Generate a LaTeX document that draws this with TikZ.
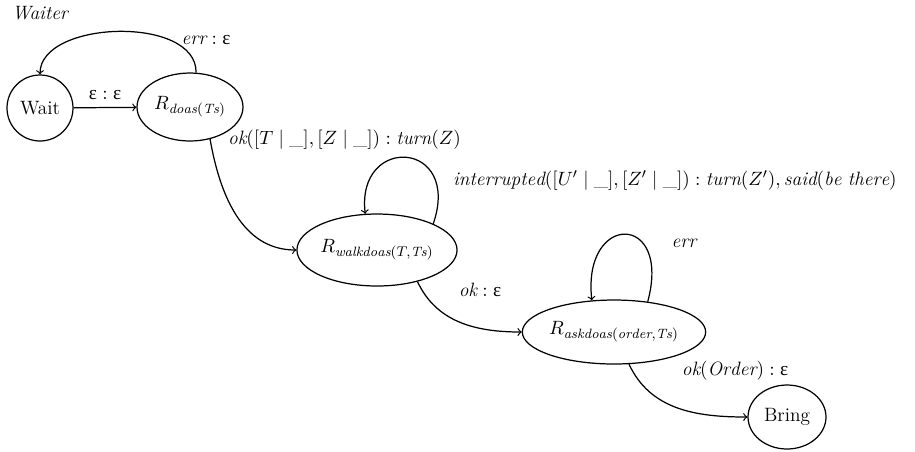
\documentclass[tikz,border=0pt]{standalone}
\usepackage{amsmath,amssymb}
\usepackage{fontspec}
\usepackage{xcolor}
\usepackage{tikz}
\usetikzlibrary{shapes.geometric}

\newfontfamily\griega{Liberation Serif}
\newcommand{\epsup}{\text{\griega ε}}

\tikzset{
  estado/.style={draw,ellipse,line width=0.7pt,inner sep=0pt,font=\fontsize{11}{13}\selectfont},
  etiq/.style={font=\fontsize{11}{13}\selectfont,inner sep=1pt},
  flecha/.style={->,line width=0.7pt}
}

\begin{document}
\begin{tikzpicture}[x=0.02cm,y=-0.02cm]
    % Marco de la figura (915 x 451)
    \useasboundingbox (0,0) rectangle (915,451);

    % Estados
    \node[estado,minimum width=1.32cm,minimum height=1.32cm] (wait) at (40,108) {Wait};
    \node[estado,minimum width=2.12cm,minimum height=1.36cm] (doas) at (190,107) {$R_{\mathit{doas}(\mathit{Ts})}$};
    \node[estado,minimum width=3.00cm,minimum height=1.44cm] (walk) at (377,250) {$R_{\mathit{walkdoas}(T,\mathit{Ts})}$};
    \node[estado,minimum width=3.56cm,minimum height=1.28cm] (ask) at (614,332) {$R_{\mathit{askdoas}(\mathit{order},\mathit{Ts})}$};
    \node[estado,minimum width=1.56cm,minimum height=1.28cm] (bring) at (787,417) {Bring};

    % Titulo
    \node[etiq,anchor=west] (titulo) at (10,13) {\textit{Waiter}};

    % Transiciones
    \draw[flecha] (wait) -- (doas) node[etiq,midway,above=3pt] {$\epsup : \epsup$};
    \draw[flecha] (doas.80) .. controls (197,15) and (40,20) .. (wait.north);
    \node[etiq] (lerr) at (206,40) {$\mathit{err} : \epsup$};

    \draw[flecha] (doas.-58) to[out=-80,in=180] (walk.west);
    \node[etiq,anchor=west] (lok) at (226,140) {$\mathit{ok}([T\mid\_],[Z\mid\_]) : \mathit{turn}(Z)$};

    \draw[flecha] (walk.25) .. controls (462,140) and (356,134) .. (walk.108);
    \node[etiq,anchor=west] (lint) at (451,180) {$\mathit{interrupted}([U'\mid\_],[Z'\mid\_]) : \mathit{turn}(Z'), \mathit{said}(\mathit{be\ there})$};

    \draw[flecha] (walk.-38) to[out=-65,in=180] (ask.west);
    \node[etiq] (lokw) at (480,290) {$\mathit{ok} : \epsup$};

    \draw[flecha] (ask.42) .. controls (672,212) and (582,212) .. (ask.125);
    \node[etiq] (lerr2) at (684,243) {$\mathit{err}$};

    \draw[flecha] (ask.-65) to[out=-65,in=180] (bring.west);
    \node[etiq] (lbring) at (735,371) {$\mathit{ok}(\mathit{Order}) : \epsup$};
\end{tikzpicture}
\end{document}
